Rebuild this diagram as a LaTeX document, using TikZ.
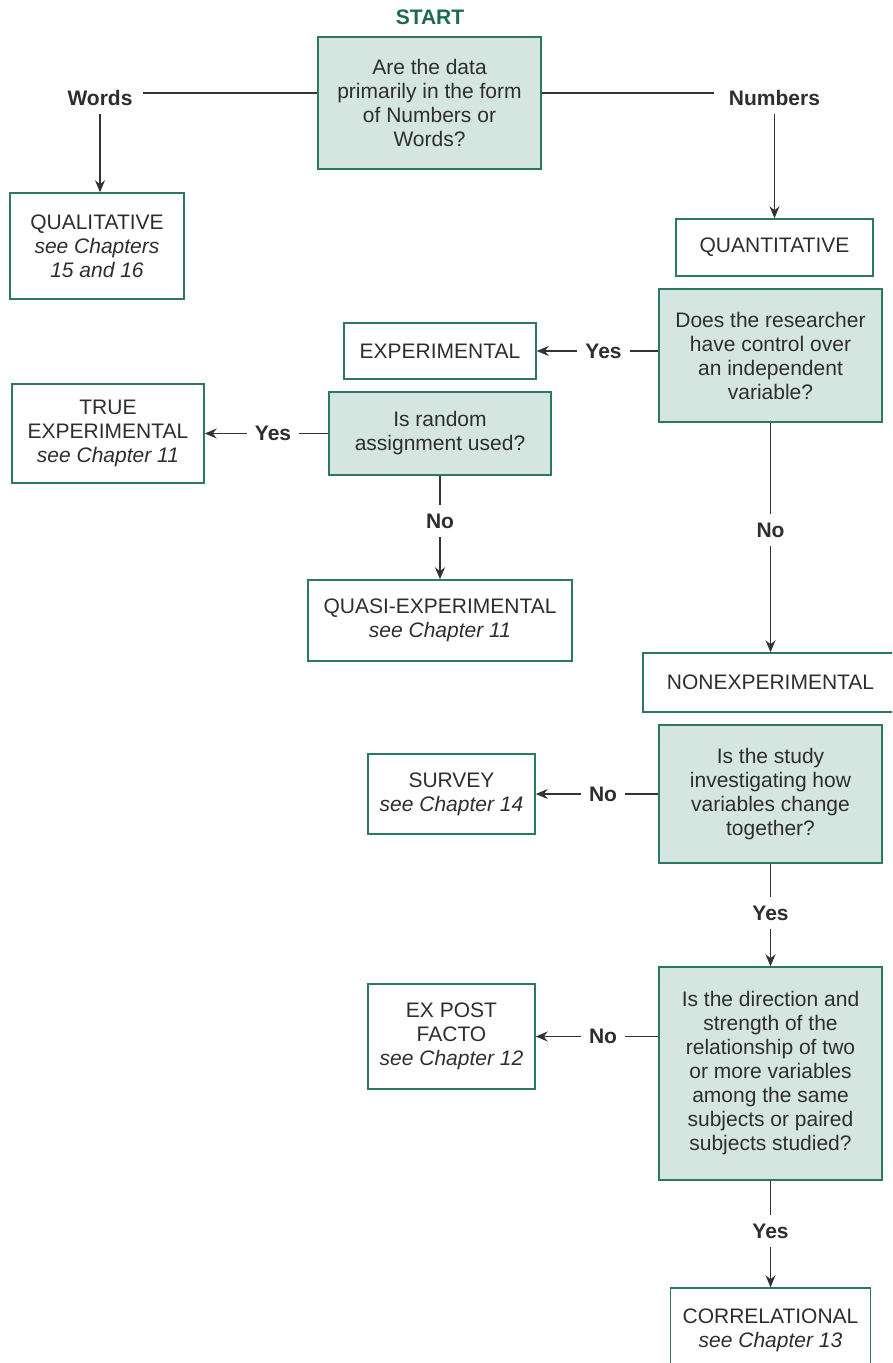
\documentclass[tikz,border=0pt]{standalone}
\usepackage{fontspec}
\setmainfont{Liberation Sans}
\usetikzlibrary{arrows.meta}
\definecolor{boxc}{HTML}{2B7866}
\definecolor{boxfill}{HTML}{D5E5E0}
\definecolor{txt}{HTML}{2E2E2E}
\definecolor{lnc}{HTML}{333333}
\definecolor{startc}{HTML}{1D6A50}
\tikzset{
  box/.style={draw=boxc, line width=1.5pt, inner sep=0pt, align=center, text=txt,
    font=\fontsize{21}{24}\selectfont},
  qbox/.style={box, fill=boxfill},
  lbl/.style={font=\fontsize{21}{24}\selectfont\bfseries, text=txt, inner xsep=8pt,
    inner ysep=0pt, minimum height=32pt},
  ln/.style={draw=lnc, line width=1.3pt},
  arr/.style={ln, -{Stealth[length=12pt,width=10pt,inset=4pt]}}
}
\begin{document}
\begin{tikzpicture}[x=1pt,y=1pt]
\clip (0,0) rectangle (892,-1363);
\fill[white] (0,0) rectangle (892,-1363);

% start
\node[font=\fontsize{21}{24}\selectfont\bfseries, text=startc, inner sep=0pt] (start) at (430,-17) {START};

% question 1
\node[qbox, minimum width=223pt, minimum height=132pt] (q1) at (429.5,-103)
  {Are the data\\primarily in the form\\of Numbers or\\Words?};
\node[lbl] (words) at (100,-98) {Words};
\node[lbl] (numbers) at (774.5,-98) {Numbers};
\coordinate (wl) at (143,-93);
\coordinate (nl) at (714,-93);

\node[box, minimum width=174pt, minimum height=106pt] (qual) at (97,-246)
  {QUALITATIVE\\\textit{see Chapters}\\\textit{15 and 16}};
\node[box, minimum width=197pt, minimum height=57pt] (quant) at (774.5,-247.5)
  {QUANTITATIVE};

% question 2
\node[qbox, minimum width=223pt, minimum height=133pt] (q2) at (770.5,-355.5)
  {Does the researcher\\have control over\\an independent\\variable?};
\node[box, minimum width=192pt, minimum height=56pt] (exp) at (440,-351)
  {EXPERIMENTAL};
\node[lbl] (yes1) at (603.5,-351) {Yes};

% question 3
\node[qbox, minimum width=222pt, minimum height=83pt] (q3) at (440,-433.5)
  {Is random\\assignment used?};
\node[box, minimum width=192pt, minimum height=99pt] (texp) at (108,-433.5)
  {TRUE\\EXPERIMENTAL\\\textit{see Chapter 11}};
\node[lbl] (yes2) at (273,-433.5) {Yes};
\node[lbl] (no1) at (440,-521) {No};
\node[box, minimum width=264pt, minimum height=81pt] (quasi) at (440,-620.5)
  {QUASI-EXPERIMENTAL\\\textit{see Chapter 11}};

\node[lbl] (no2) at (770.5,-530) {No};
\node[box, minimum width=255pt, minimum height=59pt] (nonexp) at (770.5,-682.5)
  {NONEXPERIMENTAL};

% question 4
\node[qbox, minimum width=223pt, minimum height=138pt] (q4) at (770.5,-794)
  {Is the study\\investigating how\\variables change\\together?};
\node[box, minimum width=167pt, minimum height=80pt] (survey) at (451.5,-794)
  {SURVEY\\\textit{see Chapter 14}};
\node[lbl] (no3) at (603,-794) {No};
\node[lbl] (yes3) at (770.5,-913) {Yes};

% question 5
\node[qbox, minimum width=223pt, minimum height=213pt] (q5) at (770.5,-1073.5)
  {Is the direction and\\strength of the\\relationship of two\\or more variables\\among the same\\subjects or paired\\subjects studied?};
\node[box, minimum width=167pt, minimum height=105pt] (expost) at (451.5,-1036.5)
  {EX POST\\FACTO\\\textit{see Chapter 12}};
\node[lbl] (no4) at (603,-1036.5) {No};
\node[lbl] (yes4) at (770.5,-1231) {Yes};
\node[box, minimum width=200pt, minimum height=84pt] (corr) at (770.5,-1330)
  {CORRELATIONAL\\\textit{see Chapter 13}};

% connectors
\draw[ln] (wl) -- (q1.west |- wl);
\draw[ln] (q1.east |- nl) -- (nl);
\draw[arr] (words.south) -- (words.south |- qual.north);
\draw[arr] (numbers.south) -- (numbers.south |- quant.north);

\draw[ln] (q2.west |- yes1) -- (yes1.east);
\draw[arr] (yes1.west) -- (exp.east);

\draw[ln] (q3.west) -- (yes2.east);
\draw[arr] (yes2.west) -- (texp.east);
\draw[ln] (q3.south) -- (no1.north);
\draw[arr] (no1.south) -- (quasi.north);

\draw[ln] (q2.south) -- (no2.north);
\draw[arr] (no2.south) -- (nonexp.north);

\draw[ln] (q4.west) -- (no3.east);
\draw[arr] (no3.west) -- (survey.east);
\draw[ln] (q4.south) -- (yes3.north);
\draw[arr] (yes3.south) -- (q5.north);

\draw[ln] (q5.west |- no4) -- (no4.east);
\draw[arr] (no4.west) -- (expost.east);
\draw[ln] (q5.south) -- (yes4.north);
\draw[arr] (yes4.south) -- (corr.north);
\end{tikzpicture}
\end{document}
